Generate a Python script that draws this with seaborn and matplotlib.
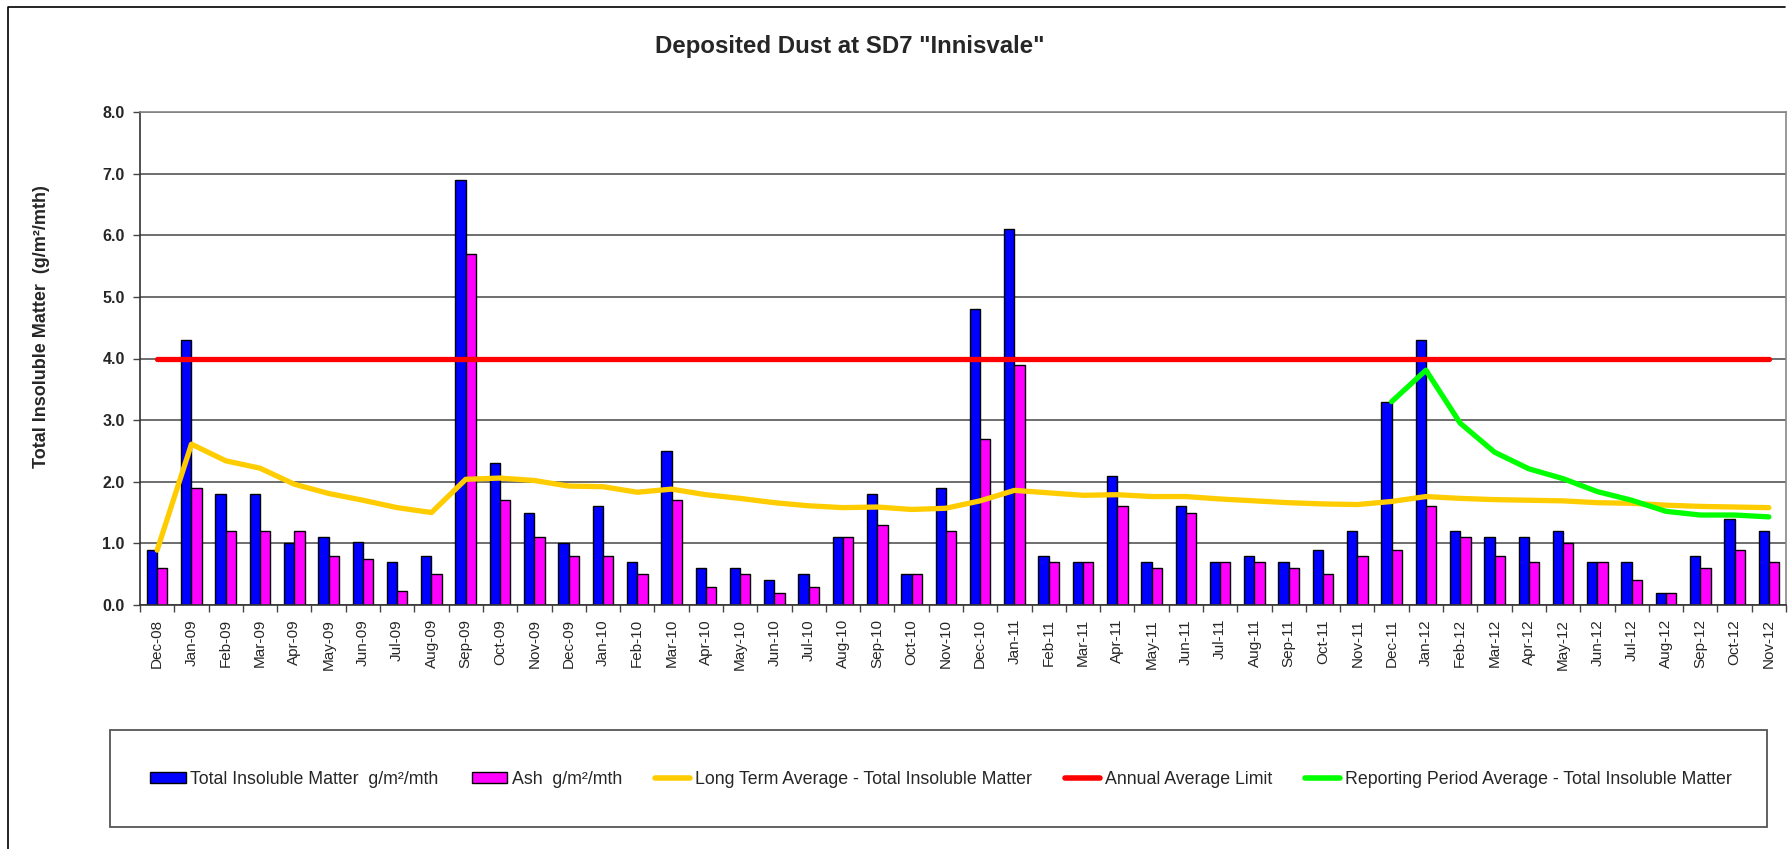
import numpy as np
import pandas as pd
import seaborn as sns
import matplotlib.pyplot as plt
from matplotlib.patches import Rectangle, Patch
from matplotlib.lines import Line2D
from matplotlib.ticker import FixedLocator

sns.set_style('white')
plt.rcParams['font.family'] = ['Liberation Sans', 'DejaVu Sans']

months = ['Dec-08', 'Jan-09', 'Feb-09', 'Mar-09', 'Apr-09', 'May-09', 'Jun-09', 'Jul-09',
          'Aug-09', 'Sep-09', 'Oct-09', 'Nov-09', 'Dec-09', 'Jan-10', 'Feb-10', 'Mar-10',
          'Apr-10', 'May-10', 'Jun-10', 'Jul-10', 'Aug-10', 'Sep-10', 'Oct-10', 'Nov-10',
          'Dec-10', 'Jan-11', 'Feb-11', 'Mar-11', 'Apr-11', 'May-11', 'Jun-11', 'Jul-11',
          'Aug-11', 'Sep-11', 'Oct-11', 'Nov-11', 'Dec-11', 'Jan-12', 'Feb-12', 'Mar-12',
          'Apr-12', 'May-12', 'Jun-12', 'Jul-12', 'Aug-12', 'Sep-12', 'Oct-12', 'Nov-12']

total_insoluble = [0.9, 4.3, 1.8, 1.8, 1.0, 1.1, 1.02, 0.69, 0.8, 6.9, 2.3, 1.5,
                   1.0, 1.6, 0.7, 2.5, 0.6, 0.6, 0.4, 0.5, 1.1, 1.8, 0.5, 1.9,
                   4.8, 6.1, 0.8, 0.7, 2.1, 0.7, 1.6, 0.7, 0.8, 0.7, 0.9, 1.2,
                   3.3, 4.3, 1.2, 1.1, 1.1, 1.2, 0.7, 0.7, 0.2, 0.8, 1.4, 1.2]

ash = [0.6, 1.9, 1.2, 1.2, 1.2, 0.8, 0.75, 0.23, 0.5, 5.7, 1.7, 1.1,
       0.8, 0.8, 0.5, 1.7, 0.3, 0.5, 0.2, 0.3, 1.1, 1.3, 0.5, 1.2,
       2.7, 3.9, 0.7, 0.7, 1.6, 0.6, 1.5, 0.7, 0.7, 0.6, 0.5, 0.8,
       0.9, 1.6, 1.1, 0.8, 0.7, 1.0, 0.7, 0.4, 0.2, 0.6, 0.9, 0.7]

long_term_avg = [0.89, 2.61, 2.34, 2.22, 1.96, 1.81, 1.70, 1.58, 1.50, 2.04, 2.06, 2.02,
                 1.93, 1.92, 1.83, 1.88, 1.79, 1.73, 1.66, 1.61, 1.58, 1.59, 1.55, 1.57,
                 1.69, 1.86, 1.82, 1.78, 1.79, 1.76, 1.76, 1.72, 1.69, 1.66, 1.64, 1.63,
                 1.68, 1.76, 1.73, 1.71, 1.70, 1.69, 1.66, 1.65, 1.62, 1.60, 1.59, 1.58]

annual_limit = 4.0

reporting_months = ['Dec-11', 'Jan-12', 'Feb-12', 'Mar-12', 'Apr-12', 'May-12',
                    'Jun-12', 'Jul-12', 'Aug-12', 'Sep-12', 'Oct-12', 'Nov-12']
reporting_avg = [3.30, 3.81, 2.95, 2.48, 2.21, 2.05, 1.84, 1.70, 1.52, 1.46, 1.46, 1.43]

lbl_total = 'Total Insoluble Matter  g/m\u00b2/mth'
lbl_ash = 'Ash  g/m\u00b2/mth'
lbl_lta = 'Long Term Average - Total Insoluble Matter'
lbl_limit = 'Annual Average Limit'
lbl_rep = 'Reporting Period Average - Total Insoluble Matter'

bars = pd.DataFrame({
    'month': months * 2,
    'value': total_insoluble + ash,
    'series': [lbl_total] * len(months) + [lbl_ash] * len(months),
})

col_total = '#0000FF'
col_ash = '#FF00FF'
col_lta = '#FFCC00'
col_limit = '#FF0000'
col_rep = '#00FF00'

W, H = 1788, 849
fig = plt.figure(figsize=(W / 100, H / 100), dpi=100)
ax = fig.add_axes([140 / W, 1 - 605 / H, 1646 / W, 493 / H])

sns.barplot(data=bars, x='month', y='value', hue='series', order=months,
            hue_order=[lbl_total, lbl_ash],
            palette={lbl_total: col_total, lbl_ash: col_ash}, saturation=1,
            width=0.6, edgecolor='black', linewidth=1.0, legend=False, ax=ax, zorder=2)

xpos = np.arange(len(months))
sns.lineplot(x=xpos, y=long_term_avg, color=col_lta, lw=3.8, ax=ax, zorder=3,
             solid_capstyle='round')
sns.lineplot(x=xpos, y=np.full(len(months), annual_limit), color=col_limit, lw=3.8,
             ax=ax, zorder=4, solid_capstyle='round')
rep_pos = [months.index(m) for m in reporting_months]
sns.lineplot(x=rep_pos, y=reporting_avg, color=col_rep, lw=3.8, ax=ax, zorder=5,
             solid_capstyle='round')

ax.set_xlim(-0.5, len(months) - 0.5)
ax.set_ylim(0, 8)
ax.set_yticks(np.arange(0, 8.5, 1.0))
ax.set_yticklabels([f'{v:.1f}' for v in np.arange(0, 8.5, 1.0)], fontsize=11.5,
                   fontweight='bold')
ax.yaxis.grid(True, color='#555555', lw=1.2, zorder=0)
ax.set_axisbelow(True)

ax.set_xticks(xpos)
ax.set_xticklabels(months, rotation=90, fontsize=11)
ax.xaxis.set_minor_locator(FixedLocator(np.arange(-0.5, len(months), 1.0)))
ax.tick_params(axis='x', which='major', length=0, pad=10)
ax.tick_params(axis='x', which='minor', length=5, width=1, color='#444444', direction='out',
               bottom=True)
ax.tick_params(axis='y', which='major', length=5, width=1, color='#444444', direction='out',
               left=True, pad=6)

ax.set_xlabel('')
ax.set_ylabel('Total Insoluble Matter  (g/m\u00b2/mth)', fontsize=13, fontweight='bold')
ax.yaxis.set_label_coords(-90 / 1646, 0.564)

for side in ['top', 'right']:
    ax.spines[side].set_color('#888888')
    ax.spines[side].set_linewidth(1.2)
for side in ['left', 'bottom']:
    ax.spines[side].set_color('#333333')
    ax.spines[side].set_linewidth(1.2)

fig.text(850 / W, 1 - 47 / H, 'Deposited Dust at SD7 "Innisvale"', ha='center', va='center',
         fontsize=17.3, fontweight='bold')

# legend box and entries
fig.patches.append(Rectangle((110 / W, 1 - 827 / H), (1767 - 110) / W, (827 - 730) / H,
                             transform=fig.transFigure, fill=False, edgecolor='#555555',
                             lw=1.3))
handles = [
    Patch(facecolor=col_total, edgecolor='black', lw=1.0, label=lbl_total),
    Patch(facecolor=col_ash, edgecolor='black', lw=1.0, label=lbl_ash),
    Line2D([], [], color=col_lta, lw=4, solid_capstyle='round', label=lbl_lta),
    Line2D([], [], color=col_limit, lw=4, solid_capstyle='round', label=lbl_limit),
    Line2D([], [], color=col_rep, lw=4, solid_capstyle='round', label=lbl_rep),
]
fig.legend(handles=handles, loc='center', bbox_to_anchor=(941 / W, 1 - 779 / H), ncol=5,
           frameon=False, fontsize=12.8, handlelength=2.0, handleheight=0.55,
           handletextpad=0.25, columnspacing=1.85)

# outer chart border (only left and top edges fall inside the image)
fig.lines.append(Line2D([8 / W, 8 / W, 1785 / W], [0, 1 - 7 / H, 1 - 7 / H],
                        transform=fig.transFigure, color='black', lw=1.2))

fig.savefig('out.png', dpi=100)
